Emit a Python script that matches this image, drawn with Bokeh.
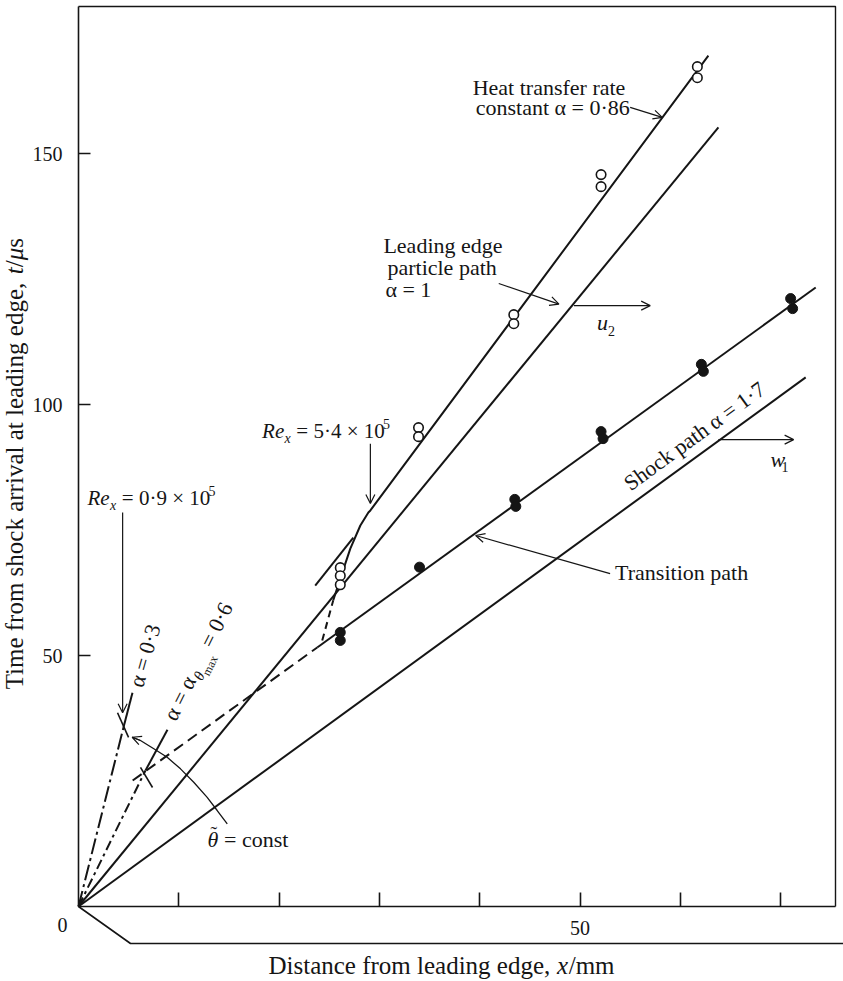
import math
from bokeh.plotting import figure
from bokeh.models import Range1d, LinearAxis, FixedTicker, Arrow, OpenHead
from bokeh.core.properties import value
from bokeh.embed import file_html
from bokeh.resources import INLINE

# ---------------- data (x in mm, t in microseconds) ----------------
open_x = [26.1, 26.1, 26.1, 33.9, 33.9, 43.4, 43.4, 52.1, 52.1, 61.7, 61.7]
open_t = [67.5, 65.9, 64.1, 95.4, 93.6, 117.9, 116.1, 145.8, 143.4, 167.3, 165.1]
filled_x = [26.1, 26.1, 34.0, 43.5, 43.6, 52.1, 52.3, 62.1, 62.3, 71.0, 71.2]
filled_t = [54.6, 53.0, 67.6, 81.1, 79.7, 94.6, 93.2, 108.0, 106.6, 121.1, 119.1]

shock_x = [0.0, 72.5]
shock_t = [0.0, 105.4]
particle_x = [0.0, 63.8]
particle_t = [0.0, 155.2]
heat_x = [25.4, 26.2, 27.1, 28.1, 28.9, 29.1, 62.8]
heat_t = [61.0, 65.9, 71.3, 75.9, 78.5, 78.9, 169.5]
heat_dash_x = [24.3, 25.4]
heat_dash_t = [53.0, 61.0]
tangent_x = [23.6, 27.4]
tangent_t = [63.9, 73.5]
transition_x = [23.8, 73.5]
transition_t = [51.6, 123.3]
transition_dash_x = [5.4, 23.8]
transition_dash_t = [25.1, 51.6]
a03_dash_x = [0.0, 4.49]
a03_dash_t = [0.0, 35.7]
a03_x = [4.49, 5.38]
a03_t = [35.7, 42.6]
amax_dash_x = [0.0, 6.68]
amax_dash_t = [0.0, 27.1]
amax_x = [6.68, 8.87]
amax_t = [27.1, 35.2]
tick03_x = [3.89, 4.99]
tick03_t = [38.6, 33.7]
tickmax_x = [6.18, 7.38]
tickmax_t = [27.7, 23.7]
theta_x = [14.83, 13.83, 12.83, 11.49, 10.17, 8.84, 7.51, 6.18, 5.35]
theta_t = [16.47, 19.12, 21.75, 24.75, 27.42, 29.73, 31.41, 33.07, 33.72]

y_ticks = [50, 100, 150]
x_ticks = [10, 20, 30, 40, 50, 60, 70]
x_tick_labels = {10: "", 20: "", 30: "", 40: "", 50: "50", 60: "", 70: ""}

# arrows: (x_start, t_start, x_end, t_end)
arrows = [
    (4.4, 78.5, 4.4, 38.6),       # Re_x = 0.9e5
    (29.1, 92.2, 29.1, 80.3),     # Re_x = 5.4e5
    (41.9, 124.1, 47.9, 120.0),   # leading edge particle path
    (49.4, 119.7, 57.0, 119.7),   # u2
    (55.0, 159.2, 58.2, 157.2),   # heat transfer
    (53.0, 66.3, 39.6, 73.9),     # transition path
    (63.8, 93.0, 71.3, 93.0),     # w1
    (6.18, 33.07, 5.35, 33.72),   # theta = const arrow head
]

# ---------------- geometry of the page ----------------
W, H = 843, 981
X0_PX, Y0_PX = 78.0, 906.0
PX_PER_MM = 10.03
PX_PER_US = 5.02
T_TOP = (Y0_PX - 6) / PX_PER_US
X_RIGHT = (835 - X0_PX) / PX_PER_MM
X_EDGE = (W - X0_PX) / PX_PER_MM

INK = "#151515"
FONT = "Liberation Serif"

p = figure(width=W, height=H, title=None,
           x_range=Range1d(-X0_PX / PX_PER_MM, (W - X0_PX) / PX_PER_MM),
           y_range=Range1d(-(H - Y0_PX) / PX_PER_US, Y0_PX / PX_PER_US),
           x_axis_location=None, y_axis_location=None,
           min_border=0, toolbar_location=None, output_backend="svg")
p.outline_line_color = None
p.background_fill_color = "white"
p.border_fill_color = "white"
p.grid.visible = False

# axes
yax = LinearAxis(fixed_location=0, ticker=FixedTicker(ticks=y_ticks), bounds=(0, T_TOP))
yax.major_tick_in = 12
yax.major_tick_out = 0
yax.minor_tick_line_color = None
yax.axis_line_width = 1.6
yax.axis_line_color = INK
yax.major_tick_line_width = 1.6
yax.major_tick_line_color = INK
yax.major_label_text_font = FONT
yax.major_label_text_font_size = "20px"
yax.major_label_text_color = INK
yax.major_label_standoff = 16
p.add_layout(yax, "left")

xax = LinearAxis(fixed_location=0, ticker=FixedTicker(ticks=x_ticks), bounds=(0, X_RIGHT))
xax.major_tick_in = 14
xax.major_tick_out = 0
xax.minor_tick_line_color = None
xax.axis_line_width = 1.6
xax.axis_line_color = INK
xax.major_tick_line_width = 1.6
xax.major_tick_line_color = INK
xax.major_label_overrides = x_tick_labels
xax.major_label_text_font = FONT
xax.major_label_text_font_size = "20px"
xax.major_label_text_color = INK
xax.major_label_standoff = 14
p.add_layout(xax, "below")

# frame top/right and the oblique base line
p.line([0, X_RIGHT, X_RIGHT], [T_TOP, T_TOP, 0], line_color=INK, line_width=1.4)
p.line([0, 52 / PX_PER_MM, X_EDGE], [0, -37 / PX_PER_US, -37 / PX_PER_US], line_color=INK, line_width=1.6)

# ---------------- lines ----------------
LW = 2.0
p.line(shock_x, shock_t, line_color=INK, line_width=LW)
p.line(particle_x, particle_t, line_color=INK, line_width=LW)
p.line(heat_x, heat_t, line_color=INK, line_width=LW)
p.line(heat_dash_x, heat_dash_t, line_color=INK, line_width=LW, line_dash="7 5")
p.line(tangent_x, tangent_t, line_color=INK, line_width=LW)
p.line(transition_x, transition_t, line_color=INK, line_width=LW)
p.line(transition_dash_x, transition_dash_t, line_color=INK, line_width=LW, line_dash="11 6")
p.line(a03_dash_x, a03_dash_t, line_color=INK, line_width=LW, line_dash="16 4 3 4")
p.line(a03_x, a03_t, line_color=INK, line_width=LW)
p.line(amax_dash_x, amax_dash_t, line_color=INK, line_width=LW, line_dash="10 4 3 4")
p.line(amax_x, amax_t, line_color=INK, line_width=LW)
p.line(tick03_x, tick03_t, line_color=INK, line_width=1.6)
p.line(tickmax_x, tickmax_t, line_color=INK, line_width=1.6)
p.line(theta_x, theta_t, line_color=INK, line_width=1.3)

for xs, ts, xe, te in arrows:
    p.add_layout(Arrow(end=OpenHead(size=9, line_width=1.2, line_color=INK),
                       x_start=xs, y_start=ts, x_end=xe, y_end=te,
                       line_width=1.2, line_color=INK))

# ---------------- markers ----------------
p.scatter(filled_x, filled_t, marker="circle", size=10, fill_color=INK, line_color=INK)
p.scatter(open_x, open_t, marker="circle", size=9.5, fill_color="white", line_color=INK, line_width=1.6)

# ---------------- text ----------------
EM = {' ': 0.25, '=': 0.564, '·': 0.25, '×': 0.564, 'α': 0.56, 'θ': 0.5, 'm': 0.78,
      'R': 0.63, 'e': 0.44, 'a': 0.46, 'x': 0.47, 'i': 0.28, 'l': 0.28, 't': 0.28,
      ',': 0.25, '/': 0.28, 'f': 0.33, 'r': 0.33, 's': 0.39, 'c': 0.44, 'D': 0.72,
      'T': 0.61, 'μ': 0.5, '˜': 0.33}
BASE_FIX = 0.37   # measured: glyphs land this many em below the requested baseline


def tw(s, size):
    return sum(EM.get(c, 0.5) for c in s) * size


def rich(x, t, pieces, angle_deg=0.0, align="left", shift=0.0):
    """pieces: (text, size_px, style, dy_px); dy>0 moves down relative to baseline."""
    a = math.radians(angle_deg)
    d = (math.cos(a), -math.sin(a))
    dn = (math.sin(a), math.cos(a))
    total = sum(tw(s, sz) for s, sz, _, _ in pieces)
    adv = -total / 2 if align == "center" else 0.0
    for s, sz, style, dy in pieces:
        lead = len(s) - len(s.lstrip(' '))
        trail = len(s) - len(s.rstrip(' '))
        core = s.strip(' ')
        adv += lead * EM[' '] * sz
        dd = dy + shift - BASE_FIX * sz
        ox = adv * d[0] + dd * dn[0]
        oy = adv * d[1] + dd * dn[1]
        p.text(x=[x + ox / PX_PER_MM], y=[t - oy / PX_PER_US], text=[core], angle=a,
               text_align="left", text_baseline="alphabetic",
               text_font=value(FONT), text_font_size=f"{sz}px",
               text_font_style=style, text_color=INK)
        adv += tw(core, sz) + trail * EM[' '] * sz


N = 22
rich(39.3, 161.6, [("Heat transfer rate", N, "normal", 0)])
rich(39.6, 157.6, [("constant α = 0·86", N, "normal", 0)])
rich(30.4, 130.1, [("Leading edge", N, "normal", 0)])
rich(30.8, 125.7, [("particle path", N, "normal", 0)])
rich(30.6, 121.3, [("α = 1", N, "normal", 0)])
rich(51.7, 114.7, [("u", N, "italic", 0), ("2", 14, "normal", 5)])
rich(69.0, 87.5, [("w", N, "italic", 0), ("1", 14, "normal", 5)])
rich(53.5, 64.9, [("Transition path", N, "normal", 0)])
rich(61.8, 92.3, [("Shock path α = 1·7", N, "normal", 0)], angle_deg=36.0, align="center")
rich(0.9, 79.9, [("Re", 21, "italic", 0), ("x", 14, "italic", 5), (" = 0·9 × 10", 21, "normal", 0),
                 ("5", 14, "normal", -9)])
rich(18.3, 93.2, [("Re", 21, "italic", 0), ("x", 14, "italic", 5), (" = 5·4 × 10", 21, "normal", 0),
                  ("5", 14, "normal", -9)])
rich(6.88, 49.7, [("α = 0·3", N, "normal", 0)], angle_deg=74.0, align="center", shift=5)
rich(12.16, 48.4, [("α = α", N, "normal", 0), ("θ", 15, "italic", 5),
                   ("max", 12, "normal", 9), (" = 0·6", N, "normal", 0)],
     angle_deg=63.5, align="center", shift=5)
rich(12.86, 11.75, [("θ", N, "italic", 0), (" = const", N, "normal", 0)])
rich(12.86 + 3.0 / PX_PER_MM, 11.75, [("˜", 20, "normal", -6)])

# axis numbers / titles
rich(-1.6, -3.8, [("0", 20, "normal", 0)], align="center", shift=7)
rich(36.2, -11.95, [("Distance from leading edge, ", 25, "normal", 0), ("x", 25, "italic", 0),
                    ("/mm", 25, "normal", 0)], align="center", shift=8)
rich(-6.28, 88.2, [("Time from shock arrival at leading edge, ", 25, "normal", 0),
                   ("t", 25, "italic", 0), ("/", 25, "normal", 0), ("μ", 25, "italic", 0),
                   ("s", 25, "normal", 0)], angle_deg=90.0, align="center", shift=8)

open("out.html", "w").write(file_html(p, INLINE))
